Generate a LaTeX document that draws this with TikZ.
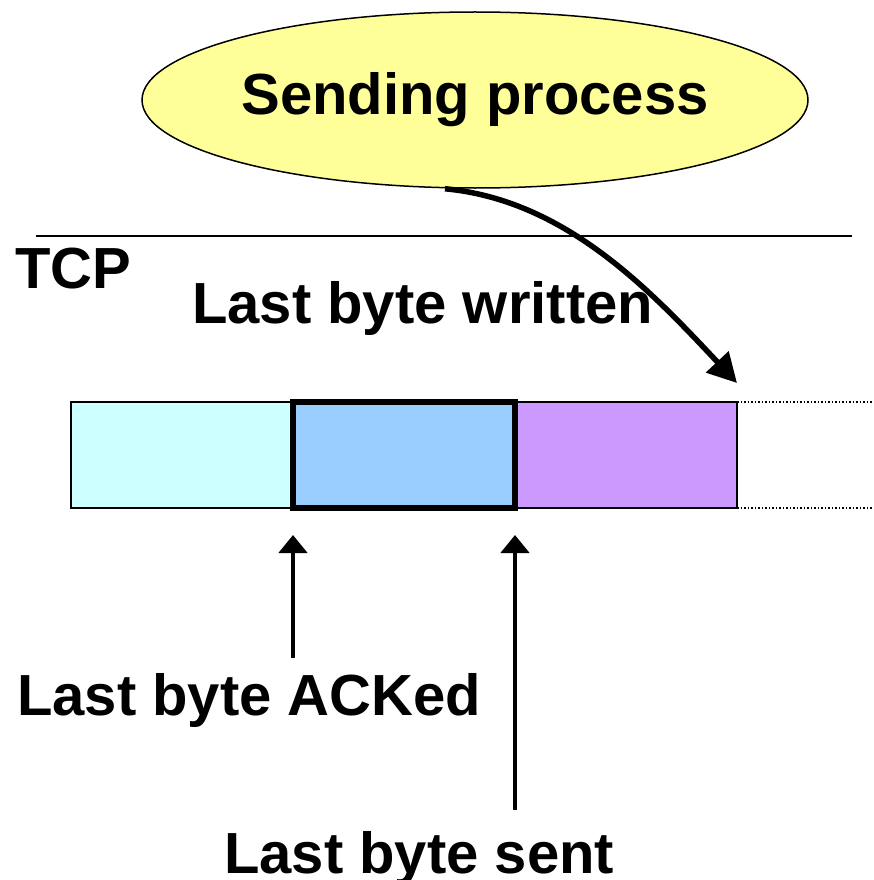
\documentclass[tikz,border=0pt]{standalone}
\usepackage{fontspec}
\setmainfont{Liberation Sans}
\usepackage{xcolor}
\usepackage{tikz}
\usetikzlibrary{positioning}
\usetikzlibrary{shapes.geometric}
\usetikzlibrary{arrows.meta}
\definecolor{procyellow}{HTML}{FFFF99}
\definecolor{ackcyan}{HTML}{CCFFFF}
\definecolor{flightblue}{HTML}{99CCFF}
\definecolor{unsentpurple}{HTML}{CC99FF}

\begin{document}
\begin{tikzpicture}[x=1pt, y=-1pt,
						every node/.style={font=\bfseries\fontsize{58}{60}\selectfont},
						lbl/.style={anchor=base west, inner sep=0},
						seg/.style={draw, line width=1.5pt, minimum width=222pt,
							minimum height=106pt, inner sep=0, outer sep=0},
						arr/.style={-{Triangle[width=28pt,length=18pt]}, line width=4.5pt}]
		\useasboundingbox (0,0) rectangle (873,880);
		\node [draw, ellipse, fill=procyellow, line width=1.5pt,
				minimum width=666pt, minimum height=176pt, inner sep=0] (process) at (475,100) {Sending process};
		\coordinate (sepleft) at (36,236);
		\coordinate (sepright) at (852,236);
		\draw [line width=1.5pt] (sepleft) -- (sepright);
		\node [lbl] (tcp) at (15,288) {TCP};
		\node [lbl] (lastwritten) at (192,323) {Last byte written};
		% send buffer
		\node [seg, fill=ackcyan, anchor=north west] (acked) at (71,402) {};
		\node [seg, fill=unsentpurple, right=222pt of acked] (unsent) {};
		\node [seg, fill=flightblue, line width=6pt, right=0pt of acked] (inflight) {};
		\coordinate (topend) at (873,402);
		\coordinate (botend) at (873,508);
		\draw [dotted, line width=1.5pt] (unsent.north east) -- (topend);
		\draw [dotted, line width=1.5pt] (unsent.south east) -- (botend);
		\node [lbl] (lastacked) at (17,715) {Last byte ACKed};
		\node [lbl] (lastsent) at (224,873) {Last byte sent};
		\draw [arr, shorten <=15pt, shorten >=27pt] (inflight.south west |- lastacked.north) -- (inflight.south west);
		\draw [arr, shorten <=21pt, shorten >=27pt] (inflight.south east |- lastsent.north) -- (inflight.south east);
		\draw [-{Triangle[width=30pt,length=29pt]}, line width=5.5pt]
			([xshift=-30pt]process.south) .. controls (565,200) and (650,290) .. ([yshift=19pt]unsent.north east);
	\end{tikzpicture}
\end{document}
